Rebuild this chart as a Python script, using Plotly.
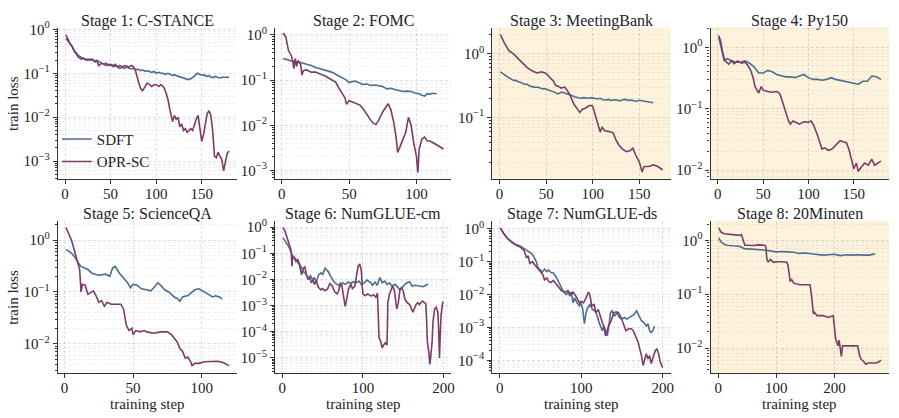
import plotly.graph_objects as go

# ---------------- data ----------------
titles = ["Stage 1: C-STANCE", "Stage 2: FOMC", "Stage 3: MeetingBank", "Stage 4: Py150",
          "Stage 5: ScienceQA", "Stage 6: NumGLUE-cm", "Stage 7: NumGLUE-ds", "Stage 8: 20Minuten"]
series_names = ["SDFT", "OPR-SC"]

p1_sdft_x = [1,3,5,8,10,13,15,18,20,23,25,28,30,33,35,38,40,43,45,48,50,53,55,58,60,63,65,68,70,73,75,78,80,83,85,88,90,93,95,98,100,103,105,108,110,113,115,118,120,123,125,128,130,133,135,138,140,143,145,148,150,153,155,158,160,163,165,168,170,173,175,178,180]
p1_sdft_y = [0.62,0.55,0.5,0.4,0.33,0.28,0.25,0.23,0.22,0.21,0.2,0.21,0.2,0.19,0.2,0.18,0.17,0.16,0.15,0.16,0.15,0.14,0.15,0.14,0.13,0.135,0.13,0.14,0.13,0.125,0.13,0.12,0.125,0.115,0.12,0.11,0.115,0.11,0.105,0.11,0.1,0.105,0.1,0.1,0.095,0.1,0.095,0.09,0.092,0.088,0.085,0.082,0.08,0.075,0.072,0.075,0.08,0.09,0.1,0.095,0.09,0.092,0.085,0.088,0.082,0.08,0.085,0.08,0.078,0.082,0.08,0.082,0.079]
p1_opr_x = [1,3,5,8,10,13,15,18,20,23,25,28,30,33,35,37,40,43,45,48,50,53,55,58,60,63,65,68,70,73,75,77,79,81,83,85,88,90,93,95,98,100,103,105,107,109,111,113,115,117,118,120,122,124,126,128,130,132,134,136,138,140,142,144,146,148,150,152,154,156,158,160,162,164,166,168,170,172,174,176,178,180]
p1_opr_y = [0.75,0.6,0.5,0.4,0.32,0.26,0.23,0.21,0.22,0.2,0.21,0.2,0.21,0.18,0.19,0.15,0.17,0.16,0.17,0.15,0.16,0.15,0.16,0.14,0.15,0.14,0.15,0.145,0.14,0.15,0.14,0.12,0.08,0.06,0.045,0.04,0.05,0.06,0.055,0.05,0.055,0.055,0.05,0.055,0.052,0.045,0.035,0.025,0.015,0.009,0.008,0.011,0.009,0.01,0.006,0.007,0.005,0.0055,0.0045,0.005,0.0055,0.005,0.007,0.009,0.011,0.006,0.0028,0.004,0.007,0.012,0.014,0.011,0.005,0.0013,0.0012,0.0016,0.0013,0.0011,0.0006,0.0009,0.0015,0.0017]

p2_sdft_x = [1,4,7,10,13,16,19,22,25,28,31,34,37,40,43,46,48,50,52,54,57,60,63,66,69,72,75,78,81,84,87,90,93,96,99,102,104,106,108,110,112,115]
p2_sdft_y = [0.3,0.28,0.27,0.25,0.25,0.23,0.22,0.21,0.19,0.18,0.17,0.155,0.15,0.135,0.12,0.11,0.1,0.088,0.092,0.095,0.088,0.08,0.082,0.076,0.078,0.075,0.072,0.064,0.066,0.062,0.058,0.056,0.057,0.056,0.052,0.05,0.046,0.044,0.05,0.049,0.051,0.05]
p2_opr_x = [1,3,5,7,8,9,10,11,12,13,14,15,16,18,20,22,25,28,30,33,35,38,40,42,45,47,48,50,52,55,58,60,62,64,66,68,70,72,75,77,79,81,83,85,86,88,90,92,94,96,98,100,101,102,104,106,108,110,113,116,118,120]
p2_opr_y = [1.1,0.9,0.45,0.35,0.28,0.18,0.3,0.2,0.27,0.25,0.22,0.13,0.16,0.17,0.16,0.15,0.15,0.14,0.13,0.12,0.11,0.1,0.09,0.07,0.05,0.04,0.029,0.035,0.033,0.03,0.028,0.024,0.02,0.016,0.013,0.011,0.0105,0.013,0.02,0.025,0.03,0.022,0.012,0.005,0.0025,0.0035,0.005,0.007,0.015,0.01,0.004,0.002,0.0009,0.003,0.005,0.0055,0.0045,0.0045,0.004,0.0036,0.0033,0.003]

p3_sdft_x = [1,3,5,7,9,11,13,15,17,19,21,23,25,27,29,31,33,35,37,39,41,43,45,47,49,51,53,55,57,59,61,63,65,67,69,71,73,75,78,81,84,87,90,93,96,99,102,105,108,111,114,117,120,123,126,129,132,135,138,141,144,147,150,153,156,159,162,165]
p3_sdft_y = [0.52,0.5,0.47,0.45,0.43,0.41,0.4,0.38,0.385,0.37,0.36,0.355,0.34,0.33,0.335,0.32,0.31,0.305,0.3,0.295,0.3,0.29,0.285,0.28,0.285,0.275,0.27,0.26,0.255,0.25,0.24,0.235,0.245,0.25,0.245,0.24,0.235,0.225,0.22,0.21,0.205,0.2,0.205,0.2,0.2,0.205,0.198,0.195,0.2,0.19,0.188,0.192,0.185,0.19,0.188,0.182,0.19,0.192,0.185,0.188,0.183,0.18,0.186,0.182,0.18,0.178,0.175,0.17]
p3_opr_x = [1,5,10,15,20,25,30,35,40,45,50,55,58,60,63,66,70,73,76,78,80,83,86,89,92,95,98,100,102,104,106,108,110,113,118,122,125,128,132,136,140,143,146,150,153,155,160,165,170,175]
p3_opr_y = [2.0,1.5,1.12,1.0,0.84,0.7,0.6,0.54,0.5,0.52,0.49,0.41,0.37,0.32,0.31,0.29,0.3,0.26,0.22,0.185,0.16,0.14,0.12,0.135,0.14,0.15,0.155,0.15,0.12,0.09,0.074,0.059,0.07,0.062,0.06,0.057,0.044,0.037,0.032,0.029,0.03,0.033,0.026,0.02,0.014,0.017,0.017,0.018,0.017,0.015]

p4_sdft_x = [1,3,5,7,10,15,20,25,30,35,40,45,50,55,60,65,70,75,80,85,90,95,100,105,110,115,120,125,130,135,140,145,150,155,160,165,170,175,180]
p4_sdft_y = [1.45,1.06,0.78,0.61,0.65,0.6,0.57,0.57,0.6,0.55,0.48,0.38,0.38,0.42,0.4,0.36,0.34,0.33,0.33,0.32,0.34,0.36,0.32,0.3,0.3,0.29,0.3,0.32,0.3,0.29,0.28,0.27,0.26,0.25,0.28,0.28,0.34,0.33,0.3]
p4_opr_x = [1,3,5,7,9,12,15,18,22,26,30,33,36,39,41,43,45,48,50,55,60,65,68,70,72,75,78,80,83,86,90,95,100,103,106,110,113,115,118,122,126,130,135,138,142,145,148,150,153,155,158,162,166,170,173,176,180]
p4_opr_y = [1.55,1.28,0.88,0.65,0.58,0.53,0.6,0.54,0.6,0.55,0.57,0.51,0.43,0.32,0.23,0.2,0.18,0.23,0.2,0.19,0.185,0.19,0.18,0.15,0.12,0.086,0.063,0.056,0.063,0.06,0.056,0.061,0.06,0.063,0.053,0.037,0.026,0.022,0.023,0.021,0.022,0.025,0.03,0.029,0.028,0.021,0.014,0.0105,0.013,0.0095,0.011,0.013,0.012,0.015,0.012,0.013,0.014]

p5_sdft_x = [1,5,8,10,12,14,17,20,25,30,33,35,37,40,43,46,48,50,53,56,60,63,65,68,70,73,76,78,80,83,84,86,90,95,98,102,105,108,110,113,115]
p5_sdft_y = [0.66,0.56,0.45,0.36,0.31,0.29,0.27,0.23,0.21,0.22,0.2,0.29,0.31,0.23,0.19,0.15,0.12,0.14,0.135,0.115,0.11,0.105,0.12,0.15,0.135,0.11,0.1,0.09,0.08,0.073,0.065,0.08,0.085,0.11,0.115,0.1,0.09,0.08,0.084,0.08,0.073]
p5_opr_x = [1,3,5,7,9,11,12,13,15,17,19,21,23,25,27,29,31,34,38,41,43,44,45,47,49,50,52,55,58,60,65,70,75,78,80,82,84,86,88,90,92,93,95,98,102,108,112,116,120]
p5_opr_y = [1.74,1.33,1.0,0.65,0.42,0.27,0.1,0.14,0.135,0.09,0.097,0.105,0.084,0.063,0.068,0.053,0.063,0.058,0.058,0.058,0.047,0.035,0.023,0.018,0.02,0.015,0.018,0.017,0.018,0.017,0.016,0.017,0.017,0.015,0.013,0.011,0.0083,0.0072,0.0053,0.0055,0.0045,0.0038,0.0042,0.0042,0.0045,0.0046,0.0046,0.0043,0.0038]

p6_sdft_x = [1,3,5,8,10,12,14,16,20,23,26,28,30,32,35,38,40,42,45,48,50,53,55,57,60,62,65,68,72,75,78,82,85,88,92,95,98,102,105,110,112,115,118,121,124,127,130,133,136,140,143,146,149,152,155,158,161,165,170,175,178,181]
p6_sdft_y = [0.39,0.32,0.25,0.18,0.13,0.087,0.075,0.06,0.042,0.032,0.02,0.018,0.015,0.011,0.014,0.0094,0.012,0.0075,0.015,0.018,0.015,0.027,0.024,0.02,0.013,0.01,0.0075,0.0065,0.0056,0.0075,0.0065,0.008,0.007,0.0082,0.0075,0.0087,0.0065,0.0075,0.0095,0.0075,0.006,0.008,0.006,0.012,0.0075,0.0087,0.0065,0.0075,0.0056,0.0065,0.0049,0.004,0.0049,0.0065,0.0075,0.0082,0.0056,0.006,0.0056,0.0053,0.006,0.0065]
p6_opr_x = [1,3,5,7,9,11,12,13,15,17,19,21,23,24,26,28,30,32,34,36,38,40,42,45,48,50,53,56,59,62,65,68,70,72,74,76,78,80,82,85,87,90,92,94,96,98,99,100,103,106,110,113,116,118,119,120,122,124,126,128,130,131,133,135,137,139,141,142,144,146,148,150,152,155,158,160,162,164,166,168,170,172,174,176,178,179,180,182,183,184,186,187,189,191,193,194,195,196,197,199,200]
p6_opr_y = [0.95,0.75,0.49,0.32,0.2,0.13,0.032,0.075,0.065,0.049,0.06,0.042,0.02,0.015,0.027,0.03,0.015,0.01,0.012,0.0075,0.0094,0.0065,0.0087,0.0049,0.004,0.0045,0.0037,0.0042,0.007,0.0056,0.0034,0.0028,0.0037,0.0075,0.0056,0.0024,0.00094,0.0018,0.0042,0.0065,0.0045,0.0056,0.015,0.032,0.037,0.024,0.0065,0.0028,0.0024,0.0028,0.0023,0.0026,0.0021,0.003,0.00056,0.00006,0.000044,0.000024,0.000032,0.000038,0.000031,0.0013,0.0028,0.0042,0.0056,0.004,0.0013,0.00075,0.0013,0.004,0.0049,0.0037,0.0018,0.0013,0.0011,0.00075,0.00056,0.00078,0.0011,0.0013,0.0011,0.0013,0.0015,0.0013,0.0012,0.00032,0.000044,0.000015,0.0000057,0.00001,0.000044,0.00024,0.00075,0.00087,0.00056,0.00013,0.00001,0.000075,0.00042,0.0013,0.0014]

p7_sdft_x = [1,5,10,15,20,25,30,33,36,40,42,45,47,50,52,55,58,60,63,66,70,73,75,78,80,82,84,86,88,90,92,95,98,100,102,104,106,108,111,114,117,120,122,124,126,128,130,132,134,136,138,141,144,147,150,153,156,159,162,165,168,171,174,177,180,182,184,186,188,190]
p7_sdft_y = [1.05,0.72,0.5,0.38,0.33,0.3,0.25,0.22,0.2,0.17,0.14,0.1,0.063,0.056,0.047,0.059,0.05,0.056,0.047,0.045,0.032,0.022,0.018,0.0126,0.011,0.01,0.0126,0.0089,0.012,0.0056,0.0079,0.0056,0.0045,0.0056,0.0035,0.0013,0.0028,0.004,0.005,0.0035,0.0032,0.0022,0.0014,0.001,0.0008,0.0011,0.0008,0.00056,0.0011,0.0028,0.0032,0.0022,0.0028,0.002,0.0018,0.002,0.0018,0.002,0.0022,0.0025,0.0032,0.0022,0.0016,0.0014,0.0011,0.0013,0.0008,0.0007,0.0008,0.0011]
p7_opr_x = [1,5,10,15,20,25,30,33,35,37,40,43,46,50,53,55,58,60,63,66,70,73,76,80,84,87,90,93,96,98,100,103,106,109,111,113,116,118,121,124,126,128,130,132,134,136,138,140,143,146,149,152,155,158,161,164,167,170,172,174,176,178,180,182,184,186,188,191,193,195,197,200]
p7_opr_y = [1.05,0.7,0.5,0.4,0.32,0.28,0.22,0.13,0.15,0.089,0.1,0.08,0.063,0.05,0.04,0.028,0.032,0.025,0.023,0.027,0.02,0.016,0.013,0.012,0.013,0.01,0.012,0.0094,0.0071,0.0056,0.0063,0.0056,0.0079,0.012,0.009,0.0045,0.005,0.0028,0.0035,0.002,0.0013,0.001,0.00056,0.0008,0.0012,0.0014,0.002,0.0028,0.003,0.0028,0.002,0.0013,0.0008,0.0009,0.00093,0.0008,0.00056,0.00035,0.00022,0.00014,0.00007,0.00011,0.00016,0.00011,0.00014,0.00008,0.00011,0.0002,0.00022,0.00016,0.00009,0.00006]

p8_sdft_x = [1,5,10,15,25,35,45,60,80,100,110,120,130,140,150,160,170,180,190,200,210,220,230,240,250,260,270]
p8_sdft_y = [1.1,0.93,0.85,0.81,0.79,0.78,0.7,0.69,0.66,0.61,0.62,0.61,0.6,0.57,0.58,0.56,0.55,0.53,0.54,0.55,0.52,0.54,0.53,0.54,0.53,0.53,0.56]
p8_opr_x = [1,5,10,20,30,38,40,43,46,50,60,70,80,82,84,86,90,95,100,110,118,120,122,124,126,130,140,150,158,160,162,164,166,170,180,190,198,200,202,204,206,208,210,212,214,218,225,235,240,243,246,250,254,258,265,272,276,280]
p8_opr_y = [1.7,1.42,1.32,1.28,1.28,1.23,1.28,1.0,0.81,0.81,0.8,0.82,0.81,0.76,0.43,0.4,0.44,0.39,0.4,0.4,0.39,0.35,0.23,0.17,0.19,0.16,0.15,0.15,0.15,0.107,0.057,0.043,0.046,0.04,0.04,0.037,0.04,0.025,0.015,0.013,0.011,0.014,0.01,0.007,0.011,0.011,0.011,0.011,0.011,0.0075,0.0062,0.0057,0.005,0.0053,0.0053,0.0053,0.0055,0.006]

x_tick_vals = [[0,50,100,150],[0,50,100],[0,50,100,150],[0,50,100,150],
               [0,50,100],[0,100,200],[0,100,200],[0,100,200]]
y_decades = [[0,-1,-2,-3],[0,-1,-2,-3],[0,-1],[0,-1,-2],
             [0,-1,-2],[0,-1,-2,-3,-4,-5],[0,-1,-2,-3,-4],[0,-1,-2]]

panels = [
    (p1_sdft_x, p1_sdft_y, p1_opr_x, p1_opr_y),
    (p2_sdft_x, p2_sdft_y, p2_opr_x, p2_opr_y),
    (p3_sdft_x, p3_sdft_y, p3_opr_x, p3_opr_y),
    (p4_sdft_x, p4_sdft_y, p4_opr_x, p4_opr_y),
    (p5_sdft_x, p5_sdft_y, p5_opr_x, p5_opr_y),
    (p6_sdft_x, p6_sdft_y, p6_opr_x, p6_opr_y),
    (p7_sdft_x, p7_sdft_y, p7_opr_x, p7_opr_y),
    (p8_sdft_x, p8_sdft_y, p8_opr_x, p8_opr_y),
]
for i, (a, b, c, d) in enumerate(panels):
    assert len(a) == len(b), (i, "sdft", len(a), len(b))
    assert len(c) == len(d), (i, "opr", len(c), len(d))

# ---------------- styling / layout ----------------
W, H = 899, 418
FONT = "Liberation Serif"
C_SDFT = "#4b6e90"
C_OPR = "#7d3b68"
CREAM = "#fdf2dc"
highlight = [False, False, True, True, False, False, False, True]

col_px = [(58, 238), (276, 453), (494, 673), (713, 892)]
row_px = [(20, 174), (217, 372)]
x_ranges = [[-7.95, 188.95], [-4.95, 125.95], [-7.7, 183.7], [-7.95, 188.95],
            [-4.95, 125.95], [-8.95, 209.95], [-8.95, 209.95], [-12.95, 293.95]]
y_ranges = [[-3.4, 0.04], [-3.18, 0.16], [-1.96, 0.41], [-2.14, 0.32],
            [-2.56, 0.37], [-5.57, 0.24], [-4.38, 0.24], [-2.46, 0.36]]

fig = go.Figure()
layout = dict(
    width=W, height=H, margin=dict(l=0, r=0, t=0, b=0),
    paper_bgcolor="white", plot_bgcolor="white",
    font=dict(family=FONT, size=15, color="#222"),
    showlegend=True,
    legend=dict(x=57 / W, y=1 - 117 / H, xanchor="left", yanchor="top",
                bgcolor="rgba(0,0,0,0)", font=dict(size=15, family=FONT, color="#222"),
                tracegroupgap=0, itemwidth=30),
)
annotations = []
shapes = []

def sup(k):
    return "10<sup>%s</sup>" % (str(k).replace("-", "\u2212"))

DASH = "3px,2px"
for i in range(8):
    r, c = divmod(i, 4)
    xs, ys, xo, yo = panels[i]
    suffix = "" if i == 0 else str(i + 1)
    xa, ya = "x" + suffix, "y" + suffix
    fig.add_trace(go.Scatter(x=xs, y=ys, mode="lines", name=series_names[0],
                             line=dict(color=C_SDFT, width=1.6), xaxis=xa, yaxis=ya,
                             showlegend=(i == 0), legendgroup="s"))
    fig.add_trace(go.Scatter(x=xo, y=yo, mode="lines", name=series_names[1],
                             line=dict(color=C_OPR, width=1.6), xaxis=xa, yaxis=ya,
                             showlegend=(i == 0), legendgroup="o"))
    x0, x1 = col_px[c]
    y0, y1 = row_px[r]
    lo, hi = y_ranges[i]
    minor_vals = []
    for k in range(int(lo) - 2, int(hi) + 2):
        for m in range(2, 10):
            minor_vals.append(m * 10.0 ** k)
    layout["xaxis" + suffix] = dict(
        domain=[x0 / W, x1 / W], anchor=ya, range=x_ranges[i],
        showline=True, linecolor="#333", linewidth=1.3,
        ticks="outside", ticklen=4, tickwidth=1, tickcolor="#333",
        tickvals=x_tick_vals[i], tickfont=dict(size=15, family=FONT, color="#222"),
        ticklabelstandoff=-3,
        showgrid=True, gridcolor="rgba(0,0,0,0.12)", griddash=DASH, gridwidth=0.8,
        zeroline=False, fixedrange=True,
    )
    layout["yaxis" + suffix] = dict(
        domain=[1 - y1 / H, 1 - y0 / H], anchor=xa, type="log", range=y_ranges[i],
        showline=True, linecolor="#333", linewidth=1.3,
        ticks="outside", ticklen=4, tickwidth=1, tickcolor="#333",
        tickvals=[10.0 ** k for k in y_decades[i]],
        ticktext=[sup(k) for k in y_decades[i]],
        tickfont=dict(size=15, family=FONT, color="#222"),
        showgrid=True, gridcolor="rgba(0,0,0,0.12)", griddash=DASH, gridwidth=0.8,
        minor=dict(tickmode="array", tickvals=minor_vals, ticks="outside", ticklen=2,
                   tickwidth=0.8, tickcolor="#333", showgrid=True,
                   gridcolor="rgba(0,0,0,0.06)", griddash=DASH, gridwidth=0.7),
        zeroline=False, fixedrange=True,
    )
    if highlight[i]:
        shapes.append(dict(type="rect", xref=xa + " domain", yref=ya + " domain",
                           x0=0, x1=1, y0=0, y1=1, fillcolor=CREAM,
                           line=dict(width=0), layer="below"))
    # title
    annotations.append(dict(text=titles[i], x=(x0 + x1) / 2 / W, y=1 - (13 if r == 0 else 210) / H,
                            xref="paper", yref="paper", showarrow=False, xanchor="center",
                            yanchor="middle", font=dict(size=16, family=FONT, color="#222")))
    if r == 1:
        annotations.append(dict(text="training step", x=(x0 + x1) / 2 / W, y=1 - 404 / H,
                                xref="paper", yref="paper", showarrow=False, xanchor="center",
                                yanchor="middle", font=dict(size=15, family=FONT, color="#222")))
    if c == 0:
        annotations.append(dict(text="train loss", x=13 / W, y=1 - ((y0 + y1) / 2) / H,
                                xref="paper", yref="paper", showarrow=False, textangle=-90,
                                xanchor="center", yanchor="middle",
                                font=dict(size=15, family=FONT, color="#222")))

layout["annotations"] = annotations
layout["shapes"] = shapes
fig.update_layout(**layout)
fig.write_html("out.html")
